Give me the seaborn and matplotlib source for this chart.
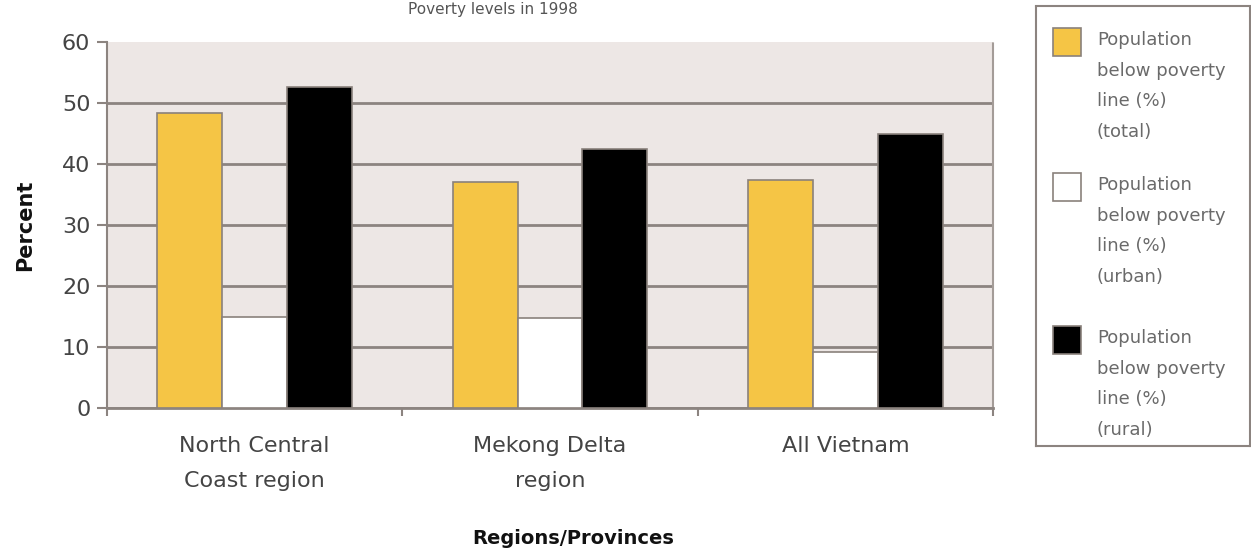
import matplotlib
matplotlib.use("Agg")
import matplotlib.pyplot as plt
from matplotlib.patches import Rectangle
import seaborn as sns
import pandas as pd

# ---- data ----
regions = ["North Central\nCoast region", "Mekong Delta\nregion", "All Vietnam"]
series = [
    "Population\nbelow poverty\nline (%)\n(total)",
    "Population\nbelow poverty\nline (%)\n(urban)",
    "Population\nbelow poverty\nline (%)\n(rural)",
]
total = [48.3, 37.1, 37.4]
urban = [14.9, 14.8, 9.2]
rural = [52.7, 42.4, 44.9]
yticks = [0, 10, 20, 30, 40, 50, 60]
title = "Poverty levels in 1998"
xlabel = "Regions/Provinces"
ylabel = "Percent"

colors = ["#f5c545", "#ffffff", "#000000"]
grid_c = "#8c8480"

rows = []
for s, vals in zip(series, [total, urban, rural]):
    for r, v in zip(regions, vals):
        rows.append({"region": r, "series": s, "value": v})
df = pd.DataFrame(rows)

sns.set_theme(style="white")
plt.rcParams["font.family"] = ["DejaVu Sans"]

fig = plt.figure(figsize=(12.51, 5.53), dpi=100)
ax = fig.add_axes([107 / 1251, 1 - 408 / 553, 886 / 1251, 366 / 553])
ax.set_facecolor("#ede7e5")

sns.barplot(data=df, x="region", y="value", hue="series", order=regions,
            hue_order=series, palette=colors, width=0.66, gap=0,
            legend=False, ax=ax, saturation=1)
for p in ax.patches:
    p.set_edgecolor("#8a817c")
    p.set_linewidth(1.2)
    p.set_zorder(3)

ax.set_xlim(-0.5, 2.5)
ax.set_ylim(0, 60)
ax.set_yticks(yticks)
ax.set_axisbelow(True)
ax.yaxis.grid(True, color=grid_c, linewidth=2)
ax.xaxis.grid(False)
gl = ax.yaxis.get_gridlines()
gl[-1].set_visible(False)

ax.spines["top"].set_visible(False)
ax.spines["left"].set_color(grid_c)
ax.spines["left"].set_linewidth(1.5)
ax.spines["bottom"].set_color(grid_c)
ax.spines["bottom"].set_linewidth(2)
ax.spines["right"].set_color("#a49c98")
ax.spines["right"].set_linewidth(1.5)
ax.spines["right"].set_linestyle((0, (1, 1)))

ax.tick_params(axis="y", direction="out", length=7, width=1.5, color=grid_c,
               labelsize=16, labelcolor="#444444", pad=5, left=True)
ax.tick_params(axis="x", which="major", length=0, labelsize=16,
               labelcolor="#444444", pad=20)
ax.set_xticks([-0.5, 0.5, 1.5, 2.5], minor=True)
ax.tick_params(axis="x", which="minor", direction="out", length=6, width=1.5,
               color=grid_c, bottom=True)
for lab in ax.get_xticklabels():
    lab.set_linespacing(1.95)

ax.set_xlabel(xlabel, fontsize=14, fontweight="bold", color="#111111")
ax.xaxis.set_label_coords((573 - 107) / 886, -(538 - 408) / 366,
                          transform=ax.transAxes)
ax.xaxis.label.set_va("center")
ax.set_ylabel(ylabel, fontsize=15, fontweight="bold", color="#111111")
ax.yaxis.set_label_coords((25 - 107) / 886, 0.5)
ax.yaxis.label.set_va("center")

fig.text(493 / 1251, 1 - 2 / 553, title, ha="center", va="top",
         fontsize=11, color="#555555")

# ---- legend box ----
lax = fig.add_axes([1036 / 1251, 1 - 446 / 553, 214 / 1251, 440 / 553])
lax.set_xlim(0, 214)
lax.set_ylim(440, 0)
lax.set_xticks([])
lax.set_yticks([])
lax.set_facecolor("white")
for sp in lax.spines.values():
    sp.set_color("#8c8480")
    sp.set_linewidth(1.5)
    sp.set_linestyle((0, (1, 1)))
tops = [22, 167, 320]
for lab, c, t in zip(series, colors, tops):
    lax.add_patch(Rectangle((17, t), 28, 28, facecolor=c, edgecolor="#8a817c",
                            linewidth=1.2))
    lax.text(61, t + 3, lab, ha="left", va="top", fontsize=13,
             color="#6a6a6a", linespacing=1.9)

fig.savefig("out.png", dpi=100)
